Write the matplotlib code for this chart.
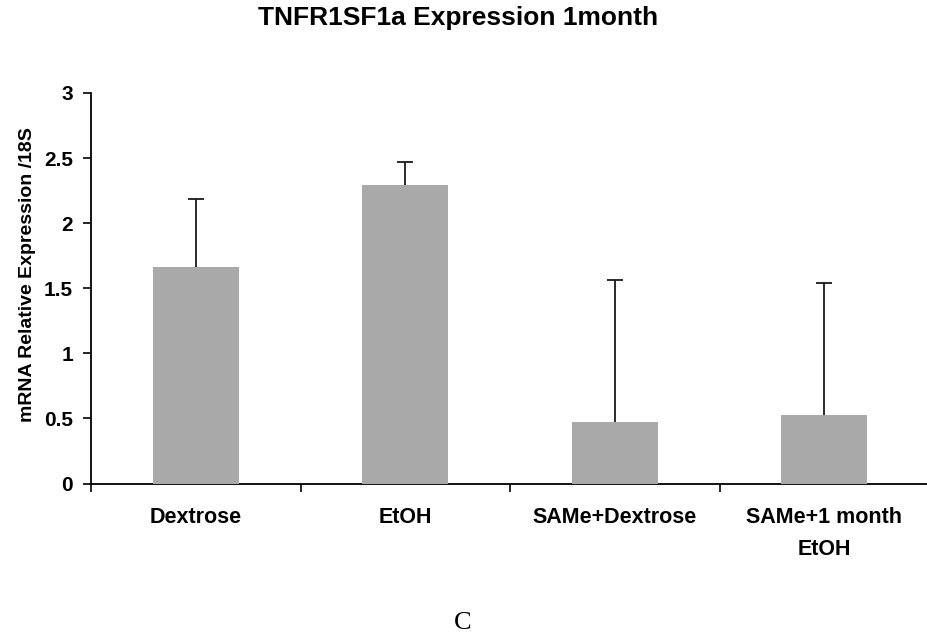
import numpy as np
import matplotlib
matplotlib.use('Agg')
from matplotlib import pyplot as plt

# dados
grupos = ['Dextrose', 'EtOH', 'SAMe+Dextrose', 'SAMe+1 month\nEtOH']
expressao = [1.663, 2.293, 0.470, 0.524]
erro = [0.520, 0.177, 1.093, 1.014]
yticks = [0, 0.5, 1, 1.5, 2, 2.5, 3]
ytick_labels = ['0', '0.5', '1', '1.5', '2', '2.5', '3']

W, H = 927, 644
fig = plt.figure(figsize=(W / 100, H / 100), dpi=100)
ax = fig.add_axes([91 / W, (H - 483.5) / H, (929 - 91) / W, (483.5 - 93) / H])

x = np.arange(len(grupos))
ax.bar(x, expressao, width=0.41, color='#a9a9a9', zorder=3)
linha, caps, barras = ax.errorbar(x, expressao, yerr=[np.zeros(len(erro)), erro], fmt='none',
                                  ecolor='#1a1a1a', elinewidth=1.3, capsize=6,
                                  capthick=1.3, zorder=2)
# so a barra de erro de cima: esconde o cap de baixo (fica no topo da barra)
for cap in caps:
    if np.allclose(cap.get_ydata(), expressao):
        cap.set_visible(False)

ax.set_xlim(-0.5, len(grupos) - 0.5)
ax.set_ylim(0, 3)
ax.set_yticks(yticks)
ax.set_yticklabels(ytick_labels, fontsize=15, fontweight='bold', family='Liberation Sans')
ax.set_xticks(x)
ax.set_xticklabels(grupos, fontsize=15.5, fontweight='bold', family='Liberation Sans',
                   linespacing=1.7)
ax.set_xticks(np.arange(len(grupos) + 1) - 0.5, minor=True)
ax.tick_params(axis='x', which='major', length=0, pad=17)
ax.tick_params(axis='x', which='minor', length=6, width=1.2, direction='out')
ax.tick_params(axis='y', length=6, width=1.2, direction='out', pad=7)

for lado in ['top', 'right']:
    ax.spines[lado].set_visible(False)
for lado in ['left', 'bottom']:
    ax.spines[lado].set_linewidth(1.3)

fig.text(458 / W, 1 - 18 / H, 'TNFR1SF1a Expression 1month', ha='center', va='center',
         fontsize=19, fontweight='bold', family='Liberation Sans')
fig.text(28 / W, 1 - 275 / H, 'mRNA Relative Expression /18S', ha='center', va='center',
         rotation=90, fontsize=14, fontweight='bold', family='Liberation Sans')
fig.text(463 / W, 1 - 623 / H, 'C', ha='center', va='center', fontsize=19,
         family='Liberation Serif')

plt.savefig('out.png', dpi=100)
plt.close()
